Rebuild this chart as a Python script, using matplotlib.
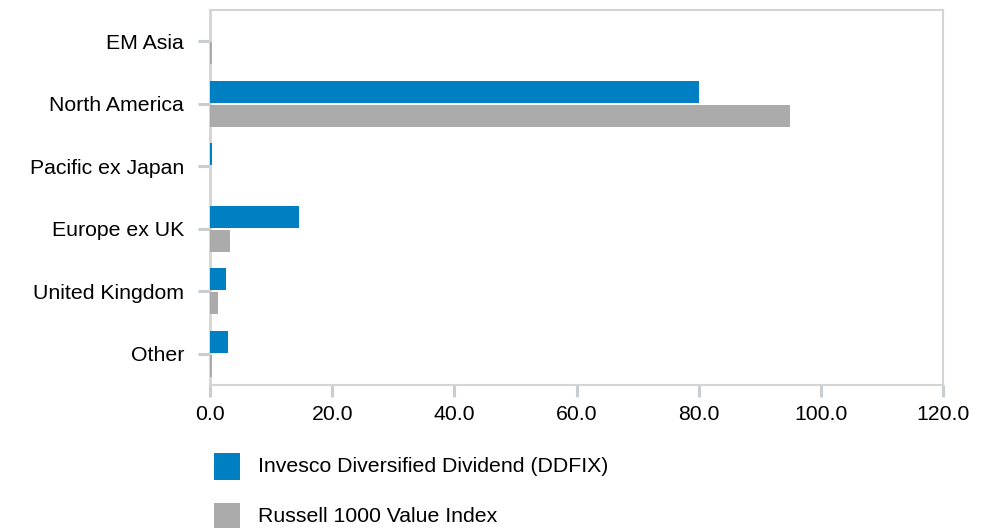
import matplotlib
matplotlib.use("Agg")
import matplotlib.pyplot as plt
from matplotlib.patches import Rectangle
import numpy as np

plt.rcParams["font.family"] = ["Liberation Sans", "DejaVu Sans"]

regions = ["EM Asia", "North America", "Pacific ex Japan", "Europe ex UK",
           "United Kingdom", "Other"]
fund_values = [0.0, 80.1, 0.3, 14.5, 2.6, 3.0]
index_values = [0.3, 95.0, 0.0, 3.3, 1.3, 0.3]
series_names = ["Invesco Diversified Dividend (DDFIX)", "Russell 1000 Value Index"]
x_ticks = [0, 20, 40, 60, 80, 100, 120]

blue = "#0080c3"
grey = "#ababab"
spine_col = "#d4d4d4"
tick_col = "#c8cdd2"
fs = 15.3

W, H = 986, 528
fig = plt.figure(figsize=(W / 100, H / 100), dpi=100)
ax = fig.add_axes([210 / W, 1 - 385 / H, (943 - 210) / W, (385 - 10) / H])

y = np.arange(len(regions))
bar_h = 0.355
off = 0.19
ax.barh(y - off, fund_values, height=bar_h, color=blue, zorder=3)
ax.barh(y + off, index_values, height=bar_h, color=grey, zorder=3)

ax.set_xlim(0, 120)
ax.set_ylim(len(regions) - 0.5, -0.5)
ax.set_yticks(y)
ax.set_yticklabels(regions)
ax.set_xticks(x_ticks)
ax.set_xticklabels([f"{v:.1f}" for v in x_ticks])

for s in ax.spines.values():
    s.set_color(spine_col)
    s.set_linewidth(1.5)
ax.spines["left"].set_linewidth(2)

ax.tick_params(axis="both", colors=tick_col, labelcolor="black",
               length=8.6, width=2.2, labelsize=fs)
ax.tick_params(axis="y", pad=10.0)
ax.tick_params(axis="x", pad=5.5)

# legend drawn in figure pixels
for i, (name, col) in enumerate(zip(series_names, [blue, grey])):
    top = 453 + i * 50
    fig.add_artist(Rectangle((214 / W, 1 - (top + 27) / H), 26 / W, 27 / H,
                             transform=fig.transFigure, color=col, lw=0))
    fig.text(258 / W, 1 - (top + 14) / H, name, fontsize=fs,
             va="center", ha="left")

fig.savefig("out.png", dpi=100)
